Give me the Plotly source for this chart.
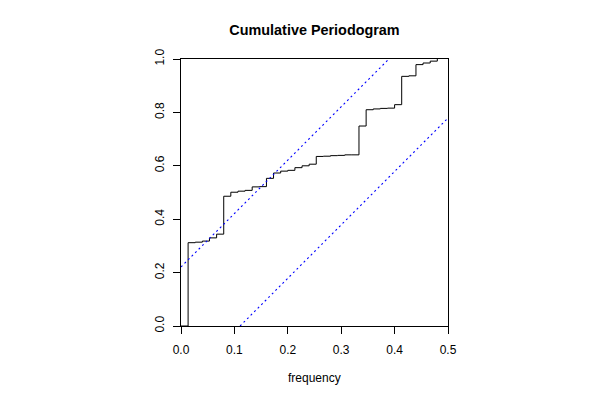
import plotly.graph_objects as go

# Data
freq = [0.0, 0.0133, 0.0267, 0.04, 0.0533, 0.0667, 0.08, 0.0933, 0.1067, 0.12,
        0.1333, 0.1467, 0.16, 0.1733, 0.1867, 0.2, 0.2133, 0.2267, 0.24, 0.2533,
        0.2667, 0.28, 0.2933, 0.3067, 0.32, 0.3333, 0.3467, 0.36, 0.3733, 0.3867,
        0.4, 0.4133, 0.4267, 0.44, 0.4533, 0.4667, 0.48]
cum_periodogram = [0.000, 0.312, 0.314, 0.318, 0.330, 0.344, 0.486, 0.501, 0.505, 0.508,
                   0.521, 0.522, 0.553, 0.573, 0.580, 0.583, 0.593, 0.600, 0.606, 0.635,
                   0.636, 0.638, 0.639, 0.641, 0.641, 0.749, 0.810, 0.813, 0.815, 0.816,
                   0.829, 0.935, 0.937, 0.979, 0.985, 0.992, 1.000]
upper_band_x = [0.0, 0.3894]
upper_band_y = [0.2212, 1.0]
lower_band_x = [0.1106, 0.5]
lower_band_y = [0.0, 0.7788]
x_ticks = [0.0, 0.1, 0.2, 0.3, 0.4, 0.5]
x_tick_labels = ["0.0", "0.1", "0.2", "0.3", "0.4", "0.5"]
y_ticks = [0.0, 0.2, 0.4, 0.6, 0.8, 1.0]
y_tick_labels = ["0.0", "0.2", "0.4", "0.6", "0.8", "1.0"]

FONT = "Liberation Sans, Arial, Helvetica, sans-serif"
BAND_COLOR = "#0000FF"

fig = go.Figure()
fig.add_trace(go.Scatter(x=freq, y=cum_periodogram, mode="lines", line_shape="hv",
                         line=dict(color="black", width=1), showlegend=False,
                         hoverinfo="skip"))
fig.add_trace(go.Scatter(x=upper_band_x, y=upper_band_y, mode="lines",
                         line=dict(color=BAND_COLOR, width=1.1, dash="2px,3px"),
                         showlegend=False, hoverinfo="skip"))
fig.add_trace(go.Scatter(x=lower_band_x, y=lower_band_y, mode="lines",
                         line=dict(color=BAND_COLOR, width=1.1, dash="2px,3px"),
                         showlegend=False, hoverinfo="skip"))

fig.update_layout(
    width=600, height=400,
    margin=dict(l=181, r=152, t=59, b=74, pad=0),
    paper_bgcolor="white", plot_bgcolor="white",
    font=dict(family=FONT, size=12, color="black"),
    title=dict(text="<b>Cumulative Periodogram</b>", x=0.5, xref="paper",
               y=1 - 30 / 400, yref="container", xanchor="center", yanchor="middle",
               font=dict(family=FONT, size=14.4, color="black")),
    xaxis=dict(range=[0, 0.5], showgrid=False, zeroline=False,
               showline=True, mirror=True, linecolor="black", linewidth=1,
               ticks="outside", ticklen=7, tickcolor="black", tickwidth=1,
               tickvals=x_ticks, ticktext=x_tick_labels, ticklabelstandoff=6,
               tickfont=dict(family=FONT, size=12, color="black")),
    yaxis=dict(range=[0, 1], showgrid=False, zeroline=False,
               showline=True, mirror=True, linecolor="black", linewidth=1,
               ticks="outside", ticklen=7, tickcolor="black", tickwidth=1,
               tickvals=y_ticks, ticktext=y_tick_labels, tickangle=-90,
               ticklabelstandoff=4,
               tickfont=dict(family=FONT, size=12, color="black")),
    annotations=[dict(text="frequency", xref="paper", yref="paper", x=0.5, y=0,
                      xanchor="center", yanchor="middle", yshift=-52,
                      showarrow=False, font=dict(family=FONT, size=12, color="black"))],
)

fig.write_html("out.html", config={"displayModeBar": False},
               post_script="document.body.style.margin='0';document.body.style.overflow='hidden';")
